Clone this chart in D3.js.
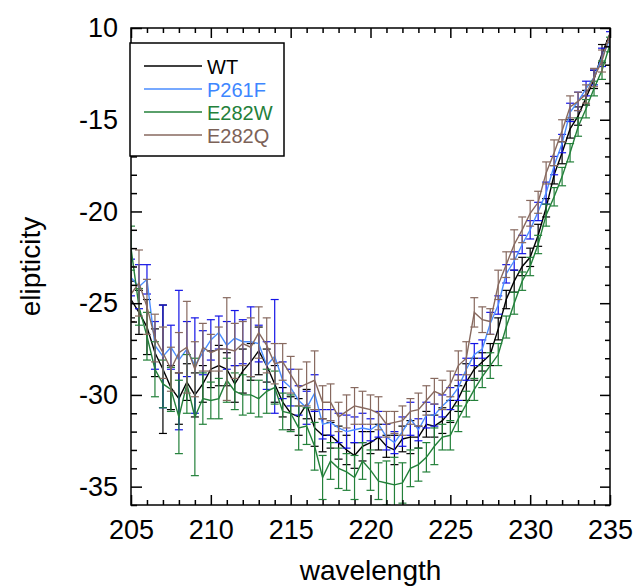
<!DOCTYPE html>
<html>
<head>
<meta charset="utf-8">
<script src="https://cdn.jsdelivr.net/npm/d3@7/dist/d3.min.js"></script>
<style>
  body { margin: 0; background: #fff; }
  svg { display: block; font-family: "Liberation Sans", Arial, sans-serif; }
</style>
</head>
<body>
<svg id="chart" width="636" height="588"></svg>
<script>
(function() {

  // wavelength grid (nm), one reading every 0.5 nm
  var wavelength = d3.range(205, 235.001, 0.5);

  var seriesNames = ["WT", "P261F", "E282W", "E282Q"];

  var wtValues = [
    -24.8, -25.5, -26.3, -27.7, -28.6, -29.6, -30.2, -29.3, -30.0, -29.4,
    -28.6, -28.4, -28.6, -29.4, -28.7, -28.2, -27.6, -28.4, -29.4, -30.4,
    -31.0, -31.2, -30.5, -31.8, -32.2, -32.2, -32.6, -33.0, -33.3, -32.8,
    -32.6, -32.3, -32.8, -33.0, -32.4, -32.3, -32.3, -31.6, -31.7, -31.4,
    -30.9, -30.2, -29.3, -28.6, -28.2, -27.8, -26.4, -24.8, -23.8, -23.0,
    -22.5, -21.3, -19.8, -18.0, -16.8, -15.5, -14.8, -13.8, -12.8, -11.4,
    -10.3
  ];
  var wtErrors = [
    1.0, 1.2, 1.5, 1.3, 3.5, 1.2, 1.4, 1.0, 1.2, 1.0,
    1.0, 1.1, 0.9, 1.0, 1.2, 1.0, 1.3, 0.9, 1.0, 0.8,
    0.9, 1.0, 0.8, 1.0, 0.9, 0.7, 0.9, 0.8, 0.7, 0.8,
    0.6, 0.7, 0.6, 0.8, 0.7, 0.9, 0.6, 0.7, 0.6, 0.7,
    0.6, 0.7, 1.0, 0.6, 0.5, 0.6, 0.6, 0.5, 0.6, 0.5,
    0.5, 0.6, 0.5, 0.5, 0.6, 0.5, 0.5, 0.4, 0.5, 0.5,
    0.4
  ];

  var p261fValues = [
    -23.6, -24.1, -23.7, -27.3, -27.9, -27.4, -28.1, -27.5, -28.4, -27.7,
    -27.0, -26.6, -27.3, -26.9, -27.1, -27.1, -27.2, -28.4, -27.9, -29.2,
    -29.6, -30.3, -30.7, -29.9, -31.6, -31.5, -31.8, -32.0, -31.9, -31.8,
    -31.9, -31.6, -32.3, -32.6, -32.0, -31.3, -31.9, -31.1, -31.1, -30.6,
    -30.2, -29.6, -28.6, -27.8, -27.5, -26.1, -25.1, -23.4, -22.7, -21.8,
    -21.0, -20.0, -19.0, -17.5, -16.3, -14.6, -14.0, -13.3, -12.7, -11.6,
    -10.6
  ];
  var p261fErrors = [
    1.0, 1.2, 0.8, 1.3, 2.8, 1.2, 3.8, 1.5, 2.6, 1.2,
    1.1, 0.9, 1.3, 1.5, 1.2, 1.9, 1.0, 1.3, 3.1, 1.0,
    1.0, 0.8, 0.9, 1.0, 0.8, 0.7, 0.8, 0.9, 0.7, 0.8,
    0.6, 0.7, 0.7, 0.6, 0.8, 0.9, 0.6, 0.7, 0.6, 0.6,
    0.6, 0.7, 0.6, 0.6, 0.5, 0.6, 0.5, 0.5, 0.5, 0.5,
    0.5, 0.5, 0.6, 0.5, 0.5, 0.5, 0.5, 0.4, 0.4, 0.5,
    0.4
  ];

  var e282wValues = [
    -22.0, -25.2, -26.8, -28.6, -29.4, -29.7, -31.2, -29.4, -31.2, -30.2,
    -30.3, -30.2, -29.2, -29.8, -30.0, -30.0, -30.2, -29.8, -29.6, -30.9,
    -31.0, -31.8, -31.7, -32.8, -34.5, -33.6, -34.0, -34.2, -34.5, -33.6,
    -34.1, -34.7, -34.8, -34.9, -34.8, -34.0, -33.8, -33.4, -32.8, -32.3,
    -32.2, -31.3, -30.5, -29.7, -29.0, -28.4, -27.8, -26.3, -25.0, -23.8,
    -23.0, -21.8, -20.2, -19.2, -18.1, -16.8, -15.4, -14.4, -13.3, -12.3,
    -10.9
  ];
  var e282wErrors = [
    1.2, 1.0, 1.3, 1.5, 1.3, 1.2, 2.0, 1.6, 3.2, 1.4,
    1.0, 1.1, 1.2, 1.0, 1.1, 1.0, 1.0, 1.2, 0.9, 1.0,
    1.0, 1.2, 1.0, 1.3, 1.2, 1.0, 1.1, 1.0, 1.2, 1.0,
    1.1, 1.0, 1.2, 1.5, 1.1, 1.0, 0.9, 0.8, 1.0, 0.7,
    0.8, 0.7, 0.7, 0.6, 0.6, 0.7, 0.6, 0.6, 0.6, 0.5,
    0.5, 0.5, 0.6, 0.5, 0.5, 0.5, 0.5, 0.5, 0.4, 0.5,
    0.4
  ];

  var e282qValues = [
    -24.5, -23.9, -25.2, -26.9, -27.7, -28.6, -27.7, -27.4, -28.6, -27.4,
    -27.7, -27.5, -27.5, -27.6, -27.2, -27.4, -26.6, -27.3, -28.3, -28.2,
    -28.9, -29.6, -29.4, -29.2, -30.4, -30.4, -31.2, -30.9, -30.6, -30.7,
    -30.8, -31.0, -31.6, -31.5, -31.4, -30.9, -30.8, -30.3, -29.8, -30.0,
    -29.4, -28.4, -28.0, -25.5, -25.9, -26.0, -24.0, -22.9, -21.8, -21.0,
    -20.1, -19.5, -17.9, -16.8, -15.6, -14.3, -14.0, -13.6, -12.7, -11.8,
    -10.3
  ];
  var e282qErrors = [
    1.5, 1.8, 1.5, 1.3, 1.4, 1.2, 1.1, 2.5, 1.5, 1.3,
    1.0, 1.2, 2.8, 1.5, 1.2, 1.6, 1.4, 1.5, 1.1, 1.0,
    1.0, 1.0, 1.2, 1.6, 0.9, 1.0, 0.8, 0.9, 1.0, 0.9,
    0.8, 0.9, 0.7, 0.6, 0.8, 0.7, 0.9, 0.8, 0.7, 0.8,
    0.7, 0.8, 0.9, 0.8, 0.7, 0.7, 0.8, 0.7, 0.8, 0.7,
    0.7, 0.6, 0.6, 0.7, 0.6, 0.6, 0.5, 0.5, 0.5, 0.6,
    0.5
  ];

  var xTicks = [205, 210, 215, 220, 225, 230, 235];
  var yTicks = [-10, -15, -20, -25, -30, -35];

  var lineColors = ["#000000", "#4a8dff", "#23803a", "#87695f"];
  var barColors  = ["#000000", "#1414e6", "#23803a", "#87695f"];
  var textColors = ["#000000", "#3d86ff", "#23803a", "#7c6258"];

  var allValues = [wtValues, p261fValues, e282wValues, e282qValues];
  var allErrors = [wtErrors, p261fErrors, e282wErrors, e282qErrors];

  var series = seriesNames.map(function(name, i) {
    return {
      name : name,
      line : lineColors[i],
      bar : barColors[i],
      text : textColors[i],
      points : wavelength.map(function(w, j) {
        return {x : w, y : allValues[i][j], err : allErrors[i][j]};
      })
    };
  });

  var svg = d3.select("#chart");
  var left = 131, right = 610, top = 28, bottom = 505;

  var x = d3.scaleLinear().domain([205, 235]).range([left, right]);
  var y = d3.scaleLinear().domain([-36, -10]).range([bottom, top]);

  svg.append("clipPath").attr("id", "plotclip")
    .append("rect")
    .attr("x", left).attr("y", top)
    .attr("width", right - left).attr("height", bottom - top);

  var plot = svg.append("g").attr("clip-path", "url(#plotclip)");

  var line = d3.line().x(d => x(d.x)).y(d => y(d.y));

  series.forEach(function(s) {
    var g = plot.append("g").attr("class", "series");
    var bars = g.selectAll("g.err").data(s.points).enter().append("g")
      .attr("class", "err")
      .attr("stroke", s.bar)
      .attr("stroke-width", 1.2);
    bars.append("line")
      .attr("x1", d => x(d.x)).attr("x2", d => x(d.x))
      .attr("y1", d => y(d.y - d.err)).attr("y2", d => y(d.y + d.err));
    bars.append("line")
      .attr("x1", d => x(d.x) - 4).attr("x2", d => x(d.x) + 4)
      .attr("y1", d => y(d.y + d.err)).attr("y2", d => y(d.y + d.err));
    bars.append("line")
      .attr("x1", d => x(d.x) - 4).attr("x2", d => x(d.x) + 4)
      .attr("y1", d => y(d.y - d.err)).attr("y2", d => y(d.y - d.err));

    g.append("path")
      .datum(s.points)
      .attr("fill", "none")
      .attr("stroke", s.line)
      .attr("stroke-width", 1.4)
      .attr("d", line);
  });

  // axes: ticks point inward on all four sides
  var fmtY = function(d) { return d === -10 ? "10" : d; };

  function addAxis(axis, transform, showLabels) {
    var g = svg.append("g").attr("transform", transform).call(axis);
    g.select(".domain").remove();
    g.selectAll("line").attr("stroke", "#000").attr("stroke-width", 1.5);
    if (!showLabels) g.selectAll("text").remove();
    return g;
  }

  var minorX = d3.range(205, 236, 1).filter(v => v % 5 !== 0);
  var minorY = d3.range(-36, -9, 1).filter(v => v % 5 !== 0);

  var xb = addAxis(d3.axisBottom(x).tickValues(xTicks).tickSize(-10).tickPadding(15).tickFormat(d3.format("d")),
    "translate(0," + bottom + ")", true);
  xb.selectAll("text").attr("font-size", 27).attr("fill", "#000");
  addAxis(d3.axisBottom(x).tickValues(minorX).tickSize(-5), "translate(0," + bottom + ")", false);
  addAxis(d3.axisTop(x).tickValues(xTicks).tickSize(-10), "translate(0," + top + ")", false);
  addAxis(d3.axisTop(x).tickValues(minorX).tickSize(-5), "translate(0," + top + ")", false);

  addAxis(d3.axisRight(y).tickValues(yTicks).tickSize(-10), "translate(" + right + ",0)", false);
  addAxis(d3.axisRight(y).tickValues(minorY).tickSize(-5), "translate(" + right + ",0)", false);
  addAxis(d3.axisLeft(y).tickValues(minorY).tickSize(-6), "translate(" + left + ",0)", false);
  var yl = addAxis(d3.axisLeft(y).tickValues(yTicks).tickSize(-11).tickPadding(13).tickFormat(fmtY),
    "translate(" + left + ",0)", true);
  yl.selectAll("text").attr("font-size", 27).attr("fill", "#000");

  svg.append("rect")
    .attr("x", left).attr("y", top)
    .attr("width", right - left).attr("height", bottom - top)
    .attr("fill", "none").attr("stroke", "#000").attr("stroke-width", 1.5);

  // legend
  var legend = svg.append("g");
  legend.append("rect")
    .attr("x", 130).attr("y", 43).attr("width", 154).attr("height", 113)
    .attr("fill", "#fff").attr("stroke", "#000").attr("stroke-width", 1.5);
  var rows = legend.selectAll("g.row").data(series).enter().append("g")
    .attr("class", "row")
    .attr("transform", (d, i) => "translate(0," + (66 + i * 23) + ")");
  rows.append("line")
    .attr("x1", 144).attr("x2", 202)
    .attr("stroke", d => d.line).attr("stroke-width", 1.5);
  rows.append("text")
    .attr("x", 207).attr("y", 8)
    .attr("font-size", 20)
    .attr("fill", d => d.text)
    .text(d => d.name);

  // axis titles
  svg.append("text")
    .attr("x", (left + right) / 2).attr("y", 580)
    .attr("text-anchor", "middle")
    .attr("font-size", 28)
    .text("wavelength");

  svg.append("text")
    .attr("transform", "translate(40," + (top + bottom) / 2 + ") rotate(-90)")
    .attr("text-anchor", "middle")
    .attr("font-size", 28)
    .text("elipticity");

})();
</script>
</body>
</html>
